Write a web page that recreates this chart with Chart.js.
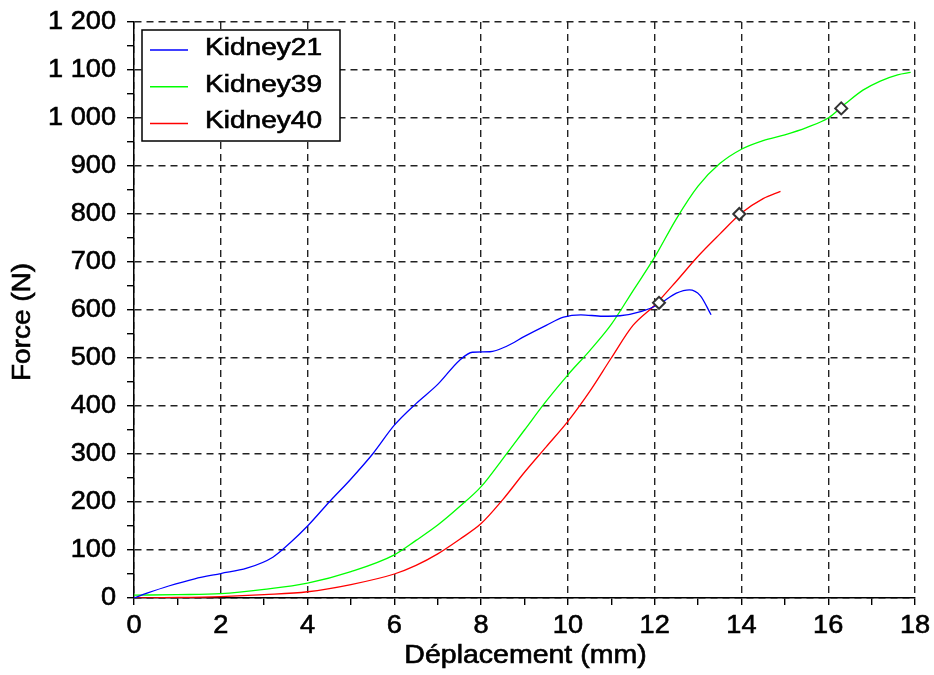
<!DOCTYPE html>
<html>
<head>
<meta charset="utf-8">
<script src="https://cdn.jsdelivr.net/npm/chart.js@4.4.0/dist/chart.umd.min.js"></script>
<style>
  html, body { margin: 0; padding: 0; background: #fff; }
  #cadre { width: 934px; height: 675px; position: relative; }
</style>
</head>
<body>
<div id="cadre"><canvas id="graficoForce"></canvas></div>
<script>
const seriesNames = ['Kidney21', 'Kidney39', 'Kidney40'];
const seriesColors = ['#0000ff', '#00ff00', '#ff0000'];

const k21X = [0, 0.3, 0.8, 1.4, 2, 2.6, 3.2, 3.6, 4, 4.5, 5, 5.5, 6, 6.5, 7, 7.5, 7.8, 8.2, 8.6, 9, 9.5, 9.9, 10.3, 10.8, 11.2, 11.7, 12.1, 12.5, 12.8, 13.05, 13.3];
const k21Y = [0, 10, 25, 40, 51, 62, 85, 115, 150, 200, 248, 300, 360, 405, 445, 495, 512, 513, 525, 545, 568, 585, 590, 587, 588, 597, 612, 635, 642, 630, 590];

const k39X = [0, 1, 2, 3, 4, 5, 6, 6.5, 7, 7.5, 8, 8.5, 9, 9.5, 10, 10.5, 11, 11.5, 12, 12.5, 13, 13.5, 14, 14.5, 15, 15.5, 16, 16.4, 16.8, 17.2, 17.6, 17.9];
const k39Y = [6, 7, 9, 18, 31, 55, 90, 120, 152, 190, 232, 290, 350, 410, 465, 515, 570, 640, 710, 790, 858, 905, 935, 953, 965, 980, 1000, 1030, 1058, 1077, 1090, 1095];

const k40X = [0, 1, 2, 3, 4, 5, 6, 6.5, 7, 7.5, 8, 8.5, 9, 9.5, 10, 10.5, 11, 11.5, 12, 12.5, 13, 13.5, 14, 14.5, 14.9];
const k40Y = [0, 1, 3, 7, 13, 28, 50, 68, 92, 122, 155, 205, 262, 315, 368, 430, 500, 568, 610, 660, 712, 758, 802, 832, 847];

const markerX = [12.1, 13.95, 16.3];
const markerY = [615, 800, 1020];

const xTicks = [0, 2, 4, 6, 8, 10, 12, 14, 16, 18];
const yTicks = [0, 100, 200, 300, 400, 500, 600, 700, 800, 900, 1000, 1100, 1200];
const xTitle = 'Déplacement (mm)';
const yTitle = 'Force (N)';

const FONTE = '"Liberation Sans", Arial, sans-serif';

function pontos(xs, ys) {
  return xs.map((x, i) => ({ x: x, y: ys[i] }));
}

function milhar(v) {
  if (v < 1000) return String(v);
  return Math.floor(v / 1000) + ' ' + String(v % 1000).padStart(3, '0');
}

// texte étiré horizontalement et un peu épaissi (police d'origine plus large)
function texte(ctx, txt, x, y, taille, sx, align, angle) {
  ctx.save();
  ctx.font = taille + 'px ' + FONTE;
  ctx.fillStyle = '#000';
  ctx.strokeStyle = '#000';
  ctx.lineWidth = 0.6;
  ctx.textAlign = align;
  ctx.textBaseline = 'middle';
  ctx.translate(x, y);
  if (angle) ctx.rotate(angle);
  ctx.scale(sx, 1);
  ctx.fillText(txt, 0, 0);
  ctx.strokeText(txt, 0, 0);
  ctx.restore();
}

const textes = {
  id: 'textes',
  afterDraw(chart) {
    const ctx = chart.ctx;
    const sx = chart.scales.x, sy = chart.scales.y;
    yTicks.forEach(v => texte(ctx, milhar(v), 116, sy.getPixelForValue(v), 26, 1.045, 'right'));
    xTicks.forEach(v => texte(ctx, String(v), sx.getPixelForValue(v), 626, 26, 1.045, 'center'));
    texte(ctx, xTitle, (sx.left + sx.right) / 2 + 1, 656, 25, 1.14, 'center');
    texte(ctx, yTitle, 23, (sy.top + sy.bottom) / 2 + 12, 25, 1.12, 'center', -Math.PI / 2);

    // légende encadrée
    const bx = 142, by = 30, bw = 198, bh = 111;
    ctx.save();
    ctx.fillStyle = '#fff';
    ctx.fillRect(bx, by, bw, bh);
    ctx.strokeStyle = '#000';
    ctx.lineWidth = 1.5;
    ctx.strokeRect(bx, by, bw, bh);
    seriesNames.forEach((nom, i) => {
      const ly = 50 + i * 36.7;
      ctx.strokeStyle = seriesColors[i];
      ctx.lineWidth = 1.5;
      ctx.beginPath();
      ctx.moveTo(150, ly);
      ctx.lineTo(188, ly);
      ctx.stroke();
      texte(ctx, nom, 205, ly - 1.5, 23, 1.22, 'left');
    });
    ctx.restore();
  }
};

const grade = (pas) => ({
  color: c => (c.tick && Math.round(c.tick.value) % pas === 0) ? '#222' : 'rgba(0,0,0,0)',
  lineWidth: 1.4,
  tickColor: '#000',
  tickLength: 7,
  tickWidth: 1.4,
  tickBorderDash: []
});

const datasets = [k21X, k39X, k40X].map((xs, i) => ({
  label: seriesNames[i],
  data: pontos(xs, [k21Y, k39Y, k40Y][i]),
  borderColor: seriesColors[i],
  borderWidth: 1.3,
  pointRadius: 0,
  cubicInterpolationMode: 'monotone',
  fill: false
}));

datasets.push({
  label: 'marqueurs',
  data: pontos(markerX, markerY),
  showLine: false,
  pointStyle: 'rectRot',
  pointRadius: 6,
  pointBackgroundColor: '#fff',
  pointBorderColor: '#333',
  pointBorderWidth: 2,
  order: -1
});

new Chart(document.getElementById('graficoForce'), {
  type: 'line',
  data: { datasets: datasets },
  options: {
    responsive: true,
    maintainAspectRatio: false,
    animation: false,
    layout: { padding: { top: 22, right: 19, left: 0, bottom: 0 } },
    plugins: { legend: { display: false }, tooltip: { enabled: false } },
    scales: {
      x: {
        type: 'linear', min: 0, max: 18,
        ticks: { stepSize: 1, display: false },
        grid: grade(2),
        border: { color: '#000', width: 1.5, dash: [7, 5] },
        afterFit: s => { s.height = 77; }
      },
      y: {
        type: 'linear', min: 0, max: 1200,
        ticks: { stepSize: 50, display: false },
        grid: grade(100),
        border: { color: '#000', width: 1.5, dash: [7, 5] },
        afterFit: s => { s.width = 134; }
      }
    }
  },
  plugins: [textes]
});
</script>
</body>
</html>
